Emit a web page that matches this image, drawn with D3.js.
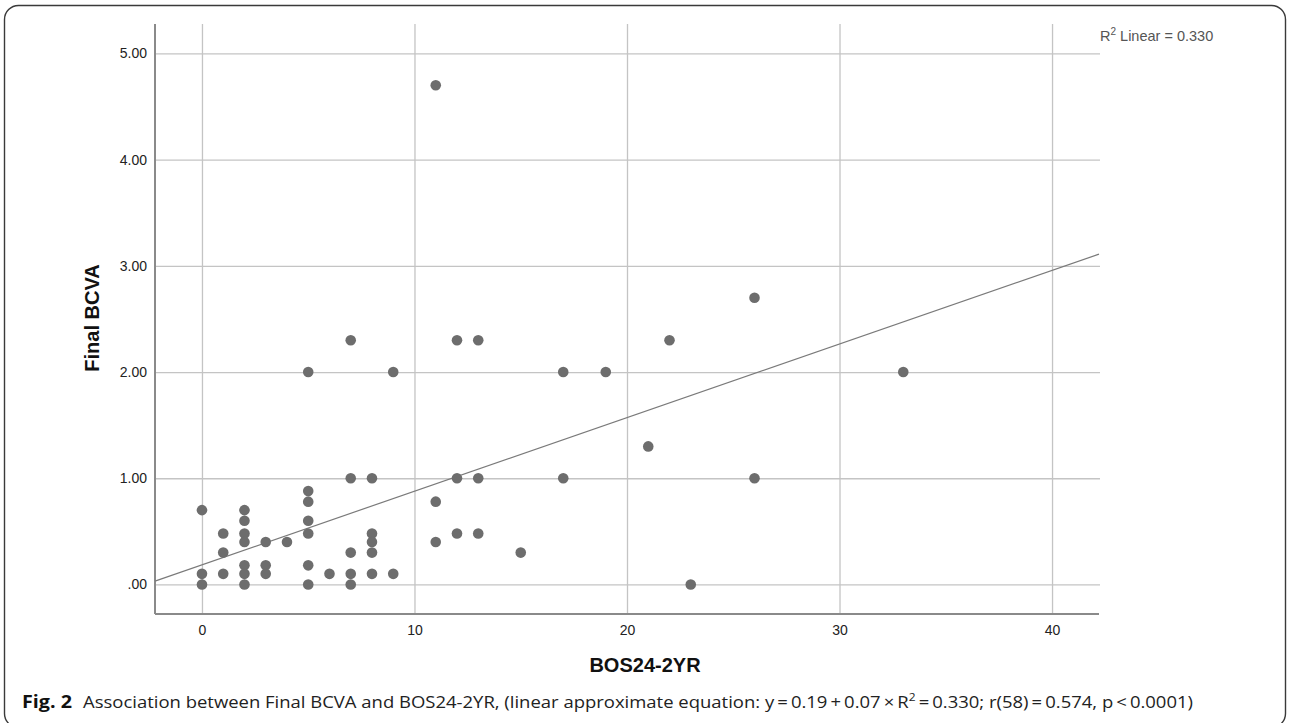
<!DOCTYPE html>
<html>
<head>
<meta charset="utf-8">
<script src="https://cdn.jsdelivr.net/npm/d3@7"></script>
<style>
  html, body { margin: 0; padding: 0; background: #fff; }
  svg { display: block; }
</style>
</head>
<body>
<svg id="chart" width="1290" height="723"></svg>
<script>
// ---- Data ----
const bosValues = [
  0, 0, 0,
  1, 1, 1,
  2, 2, 2, 2, 2, 2, 2,
  3, 3, 3,
  4,
  5, 5, 5, 5, 5, 5, 5,
  6,
  7, 7, 7, 7, 7,
  8, 8, 8, 8, 8,
  9, 9,
  11, 11, 11,
  12, 12, 12,
  13, 13, 13,
  15,
  17, 17,
  19,
  21,
  22,
  23,
  26, 26,
  33
];
const bcvaValues = [
  0.70, 0.10, 0.00,
  0.48, 0.30, 0.10,
  0.70, 0.60, 0.48, 0.40, 0.18, 0.10, 0.00,
  0.40, 0.18, 0.10,
  0.40,
  2.00, 0.88, 0.78, 0.60, 0.48, 0.18, 0.00,
  0.10,
  2.30, 1.00, 0.30, 0.10, 0.00,
  1.00, 0.48, 0.40, 0.30, 0.10,
  2.00, 0.10,
  4.70, 0.78, 0.40,
  2.30, 1.00, 0.48,
  2.30, 1.00, 0.48,
  0.30,
  2.00, 1.00,
  2.00,
  1.30,
  2.30,
  0.00,
  2.70, 1.00,
  2.00
];
const xTicks = [0, 10, 20, 30, 40];
const yTicks = [0, 1, 2, 3, 4, 5];
const yTickLabels = [".00", "1.00", "2.00", "3.00", "4.00", "5.00"];
const fitIntercept = 0.185;
const fitSlope = 0.0693;
const xDomain = [-2.21, 42.21];
const yDomain = [-0.278, 5.277];
const xTitle = "BOS24-2YR";
const yTitle = "Final BCVA";
const r2Label = "Linear = 0.330";
const captionLead = "Fig. 2";
const captionA = "Association between Final BCVA and BOS24-2YR, (linear approximate equation: y\u2009=\u20090.19\u2009+\u20090.07\u2009\u00d7\u2009R";
const captionB = "\u2009=\u20090.330; r(58)\u2009=\u20090.574, p\u2009<\u20090.0001)";

// ---- Layout ----
const svg = d3.select("#chart");
const plot = { left: 155, right: 1099, top: 24, bottom: 614 };

// frame
svg.append("rect")
  .attr("x", 4.5).attr("y", 5.5)
  .attr("width", 1281).attr("height", 722)
  .attr("rx", 14).attr("ry", 14)
  .attr("fill", "none").attr("stroke", "#3a3a3a").attr("stroke-width", 1.4);

const x = d3.scaleLinear().domain(xDomain).range([plot.left, plot.right]);
const y = d3.scaleLinear().domain(yDomain).range([plot.bottom, plot.top]);

// horizontal gridlines + y labels
const yAxis = d3.axisLeft(y)
  .tickValues(yTicks)
  .tickSize(-(plot.right + 1 - plot.left))
  .tickPadding(8)
  .tickFormat((d, i) => yTickLabels[i]);
const gy = svg.append("g").attr("transform", `translate(${plot.left},0)`).call(yAxis);
gy.select(".domain").remove();
gy.selectAll(".tick line").attr("stroke", "#c4c4c4").attr("stroke-width", 1.3);
gy.selectAll(".tick text")
  .attr("font-family", "Liberation Sans, Arial, sans-serif")
  .attr("font-size", 14).attr("fill", "#222");

// vertical gridlines + x labels
const xAxis = d3.axisBottom(x)
  .tickValues(xTicks)
  .tickSize(-(plot.bottom - plot.top))
  .tickPadding(11)
  .tickFormat(d3.format("d"));
const gx = svg.append("g").attr("transform", `translate(0,${plot.bottom})`).call(xAxis);
gx.select(".domain").remove();
gx.selectAll(".tick line").attr("stroke", "#c4c4c4").attr("stroke-width", 1.3);
gx.selectAll(".tick text")
  .attr("font-family", "Liberation Sans, Arial, sans-serif")
  .attr("font-size", 14).attr("fill", "#222");

// axis lines
svg.append("line")
  .attr("x1", plot.left).attr("x2", plot.left)
  .attr("y1", plot.top).attr("y2", plot.bottom)
  .attr("stroke", "#8a8a8a").attr("stroke-width", 2);
svg.append("line")
  .attr("x1", plot.left).attr("x2", plot.right)
  .attr("y1", plot.bottom).attr("y2", plot.bottom)
  .attr("stroke", "#8a8a8a").attr("stroke-width", 2);

// fit line
svg.append("line")
  .attr("x1", x(xDomain[0])).attr("y1", y(fitIntercept + fitSlope * xDomain[0]))
  .attr("x2", x(xDomain[1])).attr("y2", y(fitIntercept + fitSlope * xDomain[1]))
  .attr("stroke", "#7a7a7a").attr("stroke-width", 1.2);

// points
const pts = bosValues.map((b, i) => ({ b, v: bcvaValues[i] }));
svg.append("g").selectAll("circle")
  .data(pts).join("circle")
  .attr("cx", d => x(d.b)).attr("cy", d => y(d.v))
  .attr("r", 5.3)
  .attr("fill", "#6d6d6d");

// R² label
const r2 = svg.append("text")
  .attr("x", 1100).attr("y", 41)
  .attr("font-family", "Liberation Sans, Arial, sans-serif")
  .attr("font-size", 14.5).attr("fill", "#555");
r2.append("tspan").text("R");
r2.append("tspan").attr("dy", -6).attr("font-size", 10).text("2");
r2.append("tspan").attr("dy", 6).text(" " + r2Label);

// axis titles
svg.append("text")
  .attr("x", (plot.left + plot.right) / 2 + 18).attr("y", 672)
  .attr("text-anchor", "middle")
  .attr("font-family", "Liberation Sans, Arial, sans-serif")
  .attr("font-weight", "bold").attr("font-size", 20).attr("fill", "#111")
  .text(xTitle);
svg.append("text")
  .attr("transform", "translate(99,318) rotate(-90)")
  .attr("text-anchor", "middle")
  .attr("font-family", "Liberation Sans, Arial, sans-serif")
  .attr("font-weight", "bold").attr("font-size", 20).attr("fill", "#111")
  .text(yTitle);

// caption
svg.append("text")
  .attr("x", 22).attr("y", 708)
  .attr("font-family", "Open Sans, Noto Sans, sans-serif")
  .attr("font-weight", "bold").attr("font-size", 17).attr("fill", "#111")
  .attr("textLength", 50).attr("lengthAdjust", "spacingAndGlyphs")
  .text(captionLead);
const cap = svg.append("text")
  .attr("x", 83).attr("y", 708)
  .attr("font-family", "Open Sans, Noto Sans, sans-serif")
  .attr("font-size", 17).attr("fill", "#222")
  .attr("textLength", 1110).attr("lengthAdjust", "spacingAndGlyphs");
cap.append("tspan").text(captionA);
cap.append("tspan").attr("dy", -7).attr("font-size", 11).text("2");
cap.append("tspan").attr("dy", 7).text(captionB);
</script>
</body>
</html>
